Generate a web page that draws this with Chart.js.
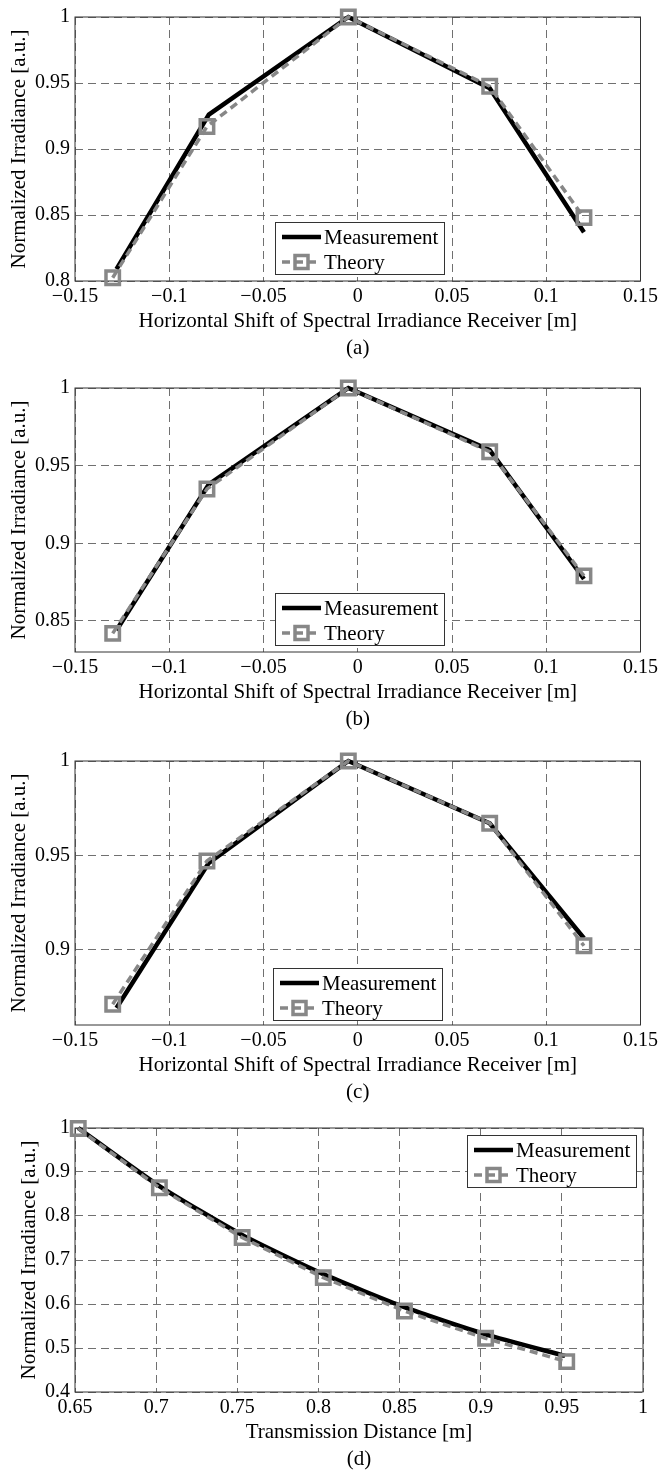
<!DOCTYPE html>
<html>
<head>
<meta charset="utf-8">
<script src="https://cdn.jsdelivr.net/npm/chart.js@4.4.0/dist/chart.umd.min.js"></script>
<style>
  body { margin: 0; background: #fff; }
  canvas { position: absolute; left: 0; }
</style>
</head>
<body>
<canvas id="chartA" width="662" height="362" style="top:0px"></canvas>
<canvas id="chartB" width="662" height="362" style="top:371px"></canvas>
<canvas id="chartC" width="662" height="362" style="top:744px"></canvas>
<canvas id="chartD" width="662" height="362" style="top:1111px"></canvas>
<script>
// shift panels (a)-(c)
const shiftTheoryX = [-0.13, -0.08, -0.005, 0.07, 0.12];
const shiftMeasX = [-0.128, -0.079, -0.005, 0.07, 0.12];
const measA = [0.809, 0.926, 1.0, 0.946, 0.837];
const theoA = [0.8025, 0.917, 1.0, 0.9475, 0.848];
const measB = [0.844, 0.938, 1.0, 0.960, 0.877];
const theoB = [0.842, 0.935, 1.0, 0.959, 0.879];
const measC = [0.869, 0.946, 1.0, 0.967, 0.906];
const theoC = [0.871, 0.947, 1.0, 0.967, 0.902];

// distance panel (d)
const distTheoryX = [0.652, 0.702, 0.753, 0.803, 0.853, 0.903, 0.953];
const distMeasX = [0.652, 0.702, 0.753, 0.803, 0.853, 0.903, 0.952];
const measD = [1.0, 0.868, 0.757, 0.668, 0.593, 0.531, 0.482];
const theoD = [0.999, 0.864, 0.751, 0.660, 0.584, 0.522, 0.469];

// ticks
const shiftTicks = [-0.15, -0.1, -0.05, 0, 0.05, 0.1, 0.15];
const yTicksA = [0.8, 0.85, 0.9, 0.95, 1];
const yTicksB = [0.85, 0.9, 0.95, 1];
const yTicksC = [0.9, 0.95, 1];
const distTicks = [0.65, 0.7, 0.75, 0.8, 0.85, 0.9, 0.95, 1];
const yTicksD = [0.4, 0.5, 0.6, 0.7, 0.8, 0.9, 1];

const shiftTitle = 'Horizontal Shift of Spectral Irradiance Receiver [m]';
const distTitle = 'Transmission Distance [m]';
const yTitle = 'Normalized Irradiance [a.u.]';

const FONT = "'Liberation Serif', 'Times New Roman', serif";
const GRID = '#707070';
const GRAY = '#878787';

const zip = (xs, ys) => xs.map((x, i) => ({x: x, y: ys[i]}));
const fmt = v => String(v).replace('-', '\u2212');

// box round the plot area, like matlab's axes
const frame = {
    id: 'frame',
    beforeDatasetsDraw(chart) {
        const {ctx, chartArea: a} = chart;
        ctx.save();
        ctx.strokeStyle = '#333';
        ctx.lineWidth = 1;
        ctx.strokeRect(a.left, a.top, a.right - a.left, a.bottom - a.top);
        ctx.restore();
    }
};

// legend drawn inside the plot area
const boxLegend = {
    id: 'boxLegend',
    afterDatasetsDraw(chart, args, opts) {
        const {ctx, chartArea: a} = chart;
        const w = 169, h = 52;
        const left = opts.right != null ? a.right - opts.right - w : a.left + opts.left;
        const top = opts.top != null ? a.top + opts.top : a.bottom - opts.bottom - h;
        ctx.save();
        ctx.fillStyle = '#fff';
        ctx.fillRect(left, top, w, h);
        ctx.strokeStyle = '#333';
        ctx.lineWidth = 1;
        ctx.strokeRect(left + 0.5, top + 0.5, w, h);
        chart.data.datasets.forEach((ds, i) => {
            const y = top + 15 + i * 25;
            ctx.setLineDash(ds.borderDash || []);
            ctx.strokeStyle = ds.borderColor;
            ctx.lineWidth = ds.borderWidth;
            ctx.beginPath();
            ctx.moveTo(left + 7, y);
            ctx.lineTo(left + 46, y);
            ctx.stroke();
            ctx.setLineDash([]);
            if (ds.pointRadius > 0) {
                const s = 6.5;
                ctx.lineWidth = ds.pointBorderWidth;
                ctx.strokeStyle = ds.pointBorderColor;
                ctx.strokeRect(left + 26.5 - s, y - s, 2 * s, 2 * s);
            }
            ctx.fillStyle = '#000';
            ctx.font = '21px ' + FONT;
            ctx.textBaseline = 'middle';
            ctx.fillText(ds.label, left + 49, y + 1);
        });
        ctx.restore();
    }
};

function axisBase(ticks, min, max) {
    return {
        type: 'linear',
        min: min,
        max: max,
        afterBuildTicks: s => { s.ticks = ticks.map(v => ({value: v})); },
        ticks: {
            callback: v => fmt(v),
            font: {family: FONT, size: 20},
            color: '#000',
            autoSkip: false,
            maxRotation: 0
        },
        grid: {color: GRID, lineWidth: 1, drawTicks: false},
        border: {display: false, dash: [8, 5]}
    };
}

function makePanel(id, p) {
    const x = axisBase(p.xTicks, p.xMin, p.xMax);
    x.ticks.padding = 4;
    x.title = {
        display: true,
        text: [p.xTitle, p.caption],
        color: '#000',
        font: {family: FONT, size: 21, lineHeight: 1.3},
        padding: {top: 0, bottom: 0}
    };
    x.afterFit = s => { s.height = 81; };

    const y = axisBase(p.yTicks, p.yMin, p.yMax);
    y.ticks.padding = 5;
    y.title = {
        display: true,
        text: yTitle,
        color: '#000',
        font: {family: FONT, size: 21, lineHeight: 1.2},
        padding: {top: p.yTitlePad, bottom: 0}
    };
    y.afterFit = s => { s.width = 75; };

    new Chart(document.getElementById(id), {
        type: 'line',
        data: {
            datasets: [{
                label: 'Measurement',
                data: zip(p.measX, p.meas),
                borderColor: '#000',
                borderWidth: 4.5,
                pointRadius: 0,
                fill: false,
                tension: p.tension || 0,
                order: 1,
                clip: false
            }, {
                label: 'Theory',
                data: zip(p.theoX, p.theo),
                borderColor: GRAY,
                borderWidth: 3.5,
                borderDash: [8, 5],
                pointStyle: 'rect',
                pointRadius: 9.5,
                pointBorderWidth: 3.5,
                pointBorderColor: GRAY,
                pointBackgroundColor: 'rgba(0,0,0,0)',
                fill: false,
                order: 0,
                clip: false
            }]
        },
        options: {
            responsive: false,
            animation: false,
            layout: {padding: {top: 13, right: 19, left: 0, bottom: 0}},
            plugins: {
                legend: {display: false},
                tooltip: {enabled: false},
                boxLegend: p.legend
            },
            scales: {x: x, y: y}
        },
        plugins: [frame, boxLegend]
    });
}

makePanel('chartA', {
    measX: shiftMeasX, meas: measA, theoX: shiftTheoryX, theo: theoA,
    xTicks: shiftTicks, xMin: -0.15, xMax: 0.15, yTicks: yTicksA, yMin: 0.8, yMax: 1,
    xTitle: shiftTitle, caption: '(a)', yTitlePad: 7, legend: {left: 200, bottom: 7}
});
makePanel('chartB', {
    measX: shiftMeasX, meas: measB, theoX: shiftTheoryX, theo: theoB,
    xTicks: shiftTicks, xMin: -0.15, xMax: 0.15, yTicks: yTicksB, yMin: 0.83, yMax: 1,
    xTitle: shiftTitle, caption: '(b)', yTitlePad: 7, legend: {left: 200, bottom: 7}
});
makePanel('chartC', {
    measX: shiftMeasX, meas: measC, theoX: shiftTheoryX, theo: theoC,
    xTicks: shiftTicks, xMin: -0.15, xMax: 0.15, yTicks: yTicksC, yMin: 0.86, yMax: 1,
    xTitle: shiftTitle, caption: '(c)', yTitlePad: 7, legend: {left: 198, bottom: 5}
});
makePanel('chartD', {
    measX: distMeasX, meas: measD, theoX: distTheoryX, theo: theoD, tension: 0.2,
    xTicks: distTicks, xMin: 0.65, xMax: 1, yTicks: yTicksD, yMin: 0.4, yMax: 1,
    xTitle: distTitle, caption: '(d)', yTitlePad: 17, legend: {right: 7, top: 7}
});
</script>
</body>
</html>
